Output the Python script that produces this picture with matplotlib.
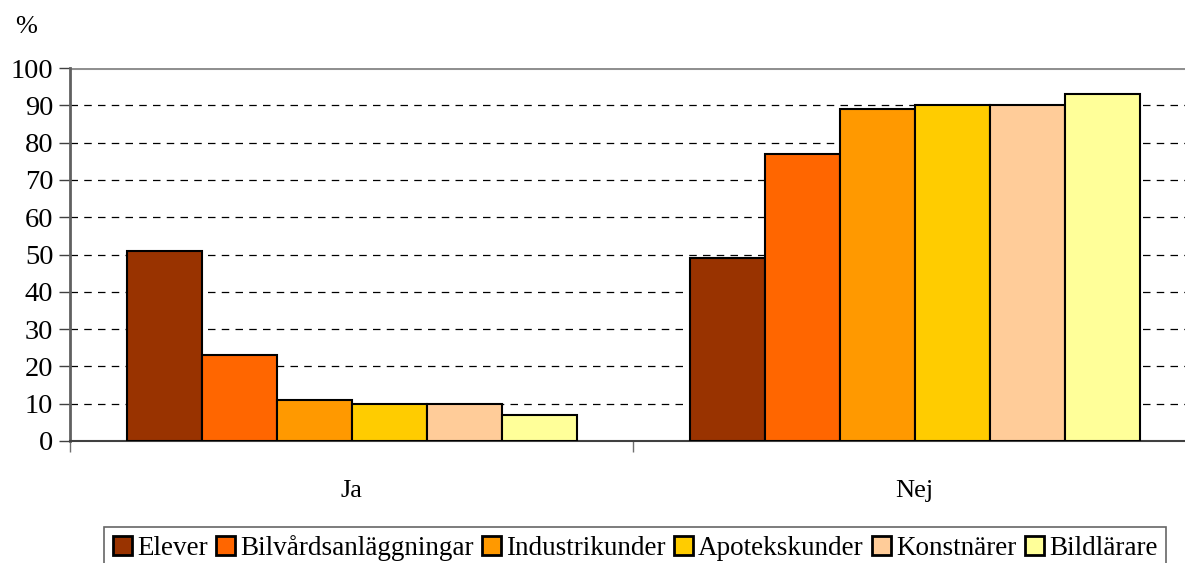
import matplotlib
matplotlib.use("Agg")
import matplotlib.pyplot as plt
import numpy as np

categories = ["Ja", "Nej"]
series_names = ["Elever", "Bilvårdsanläggningar", "Industrikunder",
                "Apotekskunder", "Konstnärer", "Bildlärare"]
values = {
    "Elever": [51, 49],
    "Bilvårdsanläggningar": [23, 77],
    "Industrikunder": [11, 89],
    "Apotekskunder": [10, 90],
    "Konstnärer": [10, 90],
    "Bildlärare": [7, 93],
}
colors = ["#993300", "#FF6600", "#FF9900", "#FFCC00", "#FFCC99", "#FFFF99"]
yticks = [0, 10, 20, 30, 40, 50, 60, 70, 80, 90, 100]

plt.rcParams['font.family'] = ['Liberation Serif', 'DejaVu Serif']

fig = plt.figure(figsize=(11.85, 5.63), dpi=100)
ax = fig.add_axes([70/1185, 122/563, 1126/1185, 373/563])

bw = 75/563
n = len(series_names)
x = np.arange(len(categories))
for i, name in enumerate(series_names):
    off = (i - (n - 1) / 2) * bw
    ax.bar(x + off, values[name], width=bw, color=colors[i],
           edgecolor="black", linewidth=1.5, label=name, zorder=3)

ax.set_xlim(-0.5, 1.5)
ax.set_ylim(0, 100)
ax.set_yticks(yticks)
ax.set_yticklabels([str(t) for t in yticks], fontsize=20.5)
for t in yticks[1:-1]:
    ax.axhline(t, color="black", linewidth=0.9, dashes=(6, 5), zorder=1)
ax.axhline(100, color="#909090", linewidth=2.2, zorder=1)

ax.set_xticks([-0.5, 0.5, 1.5])
ax.set_xticklabels([])
ax.set_xticks(x, minor=True)
ax.set_xticklabels(categories, minor=True, fontsize=19)
ax.tick_params(axis="x", which="minor", length=0, pad=28)
ax.tick_params(axis="x", which="major", length=8, width=1, color="#707070")
ax.tick_params(axis="y", length=8, width=1, color="#404040", pad=4)

for s in ["top", "right"]:
    ax.spines[s].set_visible(False)
ax.spines["left"].set_color("#606060")
ax.spines["left"].set_linewidth(2)
ax.spines["bottom"].set_color("#404040")
ax.spines["bottom"].set_linewidth(1.5)

fig.text(26/1185, 1 - 27/563, "%", fontsize=19, ha="center", va="center")

leg = fig.legend(loc="upper center", bbox_to_anchor=(635/1185, 1 - 527/563),
                 ncol=6, fontsize=19.5, frameon=True, fancybox=False,
                 edgecolor="#404040", handlelength=0.7, handleheight=0.7,
                 handletextpad=0.2, columnspacing=0.3, borderpad=0.3,
                 borderaxespad=0)
leg.get_frame().set_linewidth(1.2)
for h in leg.legend_handles:
    h.set_linewidth(2)

fig.savefig("out.png", dpi=100)
